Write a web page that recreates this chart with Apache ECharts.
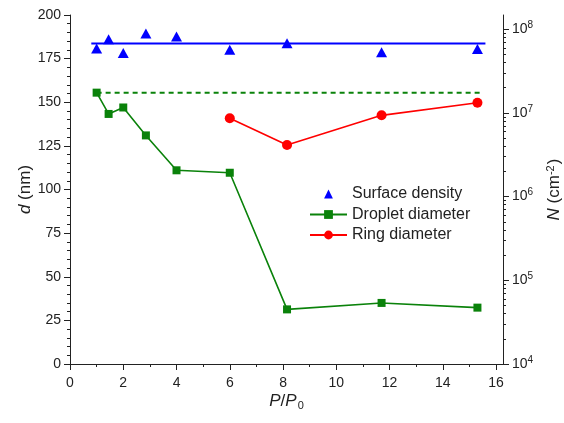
<!DOCTYPE html>
<html>
<head>
<meta charset="utf-8">
<script src="https://cdn.jsdelivr.net/npm/echarts@6/dist/echarts.min.js"></script>
<style>
  html, body { margin: 0; padding: 0; background: #fff; }
  #chart { width: 564px; height: 423px; }
</style>
</head>
<body>
<div id="chart"></div>
<script>
// P/P0 values and readings
var densityP = [1.0, 1.45, 2.0, 2.85, 4.0, 6.0, 8.15, 11.7, 15.3];
var densityN = [5.9e7, 7.6e7, 5.2e7, 8.9e7, 8.2e7, 5.7e7, 6.8e7, 5.3e7, 5.8e7];
var dropletP = [1.0, 1.45, 2.0, 2.85, 4.0, 6.0, 8.15, 11.7, 15.3];
var dropletD = [155.5, 143.3, 147, 131, 111, 109.6, 31.3, 35, 32.3];
var ringP = [6.0, 8.15, 11.7, 15.3];
var ringD = [140.8, 125.5, 142.5, 149.7];

// mean surface density line and reference droplet line
var meanLineP = [0.8, 15.6];
var meanLineN = [6.75e7, 6.75e7];
var refLineP = [1.0, 15.5];
var refLineD = [155.5, 155.5];

// tick values
var xMajor = [0, 2, 4, 6, 8, 10, 12, 14, 16];
var xMinor = [1, 3, 5, 7, 9, 11, 13, 15];
var nMajor = [1e4, 1e5, 1e6, 1e7, 1e8];
var nMinor = [];
for (var e = 4; e < 8; e++) {
  for (var m = 2; m <= 9; m++) nMinor.push(m * Math.pow(10, e));
}

function pairs(xs, ys) {
  var out = [];
  for (var i = 0; i < xs.length; i++) out.push([xs[i], ys[i]]);
  return out;
}

var FONT = 'Liberation Sans, Arial, sans-serif';
var TXT = '#222';
var AX = '#222';

var myChart = echarts.init(document.getElementById('chart'));

var option = {
  animation: false,
  textStyle: { fontFamily: FONT },
  grid: { left: 70, right: 61, top: 15, bottom: 59, containLabel: false, outerBoundsMode: 'none' },
  legend: {
    orient: 'vertical',
    left: 309,
    top: 186,
    padding: 0,
    itemWidth: 37,
    itemHeight: 11,
    itemGap: 4.5,
    textStyle: { fontFamily: FONT, fontSize: 16, color: TXT },
    data: ['Surface density', 'Droplet diameter', 'Ring diameter']
  },
  xAxis: [
    {
      type: 'value', min: 0, max: 16.26, position: 'bottom',
      name: '{i|P}/{i|P}{sub|0}',
      nameLocation: 'middle', nameGap: 28, nameMoveOverlap: false,
      nameTextStyle: {
        fontFamily: FONT, fontSize: 17, color: TXT,
        rich: {
          i: { fontStyle: 'italic', fontSize: 17, fontFamily: FONT, color: TXT },
          sub: { fontSize: 11, fontFamily: FONT, color: TXT, verticalAlign: 'bottom', padding: [8, 0, 0, 1] }
        }
      },
      axisLine: { show: true, onZero: false, lineStyle: { color: AX, width: 1 } },
      axisTick: { show: true, inside: false, length: 6, customValues: xMajor, lineStyle: { color: AX } },
      axisLabel: { customValues: xMajor, fontSize: 14, color: TXT, margin: 12 },
      splitLine: { show: false }
    },
    {
      type: 'value', min: 0, max: 16.26, position: 'bottom',
      axisLine: { show: false, onZero: false },
      axisTick: { show: true, inside: false, length: 3, customValues: xMinor, lineStyle: { color: AX } },
      axisLabel: { show: false },
      splitLine: { show: false }
    }
  ],
  yAxis: [
    {
      type: 'value', min: 0, max: 200, interval: 25, position: 'left',
      name: '{i|d} (nm)',
      nameLocation: 'middle', nameGap: 36, nameRotate: 90, nameMoveOverlap: false,
      nameTextStyle: {
        fontFamily: FONT, fontSize: 17, color: TXT,
        rich: { i: { fontStyle: 'italic', fontSize: 17, fontFamily: FONT, color: TXT } }
      },
      axisLine: { show: true, onZero: false, lineStyle: { color: AX, width: 1 } },
      axisTick: { show: true, inside: false, length: 6, lineStyle: { color: AX } },
      minorTick: { show: true, splitNumber: 5, length: 3, lineStyle: { color: AX } },
      axisLabel: { fontSize: 14, color: TXT, margin: 9 },
      splitLine: { show: false }
    },
    {
      type: 'log', logBase: 10, min: 1e4, max: 1.48e8, position: 'right',
      name: '{i|N} (cm{sup|-2})',
      nameLocation: 'middle', nameGap: 42, nameRotate: 90, nameMoveOverlap: false,
      nameTextStyle: {
        fontFamily: FONT, fontSize: 17, color: TXT,
        rich: {
          i: { fontStyle: 'italic', fontSize: 17, fontFamily: FONT, color: TXT },
          sup: { fontSize: 11, fontFamily: FONT, color: TXT, verticalAlign: 'top', padding: [0, 1, 8, 0] }
        }
      },
      axisLine: { show: true, onZero: false, lineStyle: { color: AX, width: 1 } },
      axisTick: { show: true, inside: false, length: 6, customValues: nMajor, lineStyle: { color: AX } },
      axisLabel: {
        customValues: nMajor, fontSize: 14, color: TXT, margin: 9,
        formatter: function (v) {
          return '10{sup|' + Math.round(Math.log10(v)) + '}';
        },
        rich: { sup: { fontSize: 10, fontFamily: FONT, color: TXT, verticalAlign: 'top', padding: [0, 0, 8, 0] } }
      },
      splitLine: { show: false }
    },
    {
      type: 'log', logBase: 10, min: 1e4, max: 1.48e8, position: 'right',
      axisLine: { show: false, onZero: false },
      axisTick: { show: true, inside: false, length: 3, customValues: nMinor, lineStyle: { color: AX } },
      axisLabel: { show: false },
      splitLine: { show: false }
    }
  ],
  series: [
    {
      name: 'Surface density', type: 'line', yAxisIndex: 1,
      symbol: 'triangle', symbolSize: [11, 10], showSymbol: true,
      itemStyle: { color: '#0000ff' },
      lineStyle: { color: '#0000ff', opacity: 0 },
      data: pairs(densityP, densityN), z: 5
    },
    {
      name: 'mean', type: 'line', yAxisIndex: 1, showSymbol: false, symbol: 'none',
      lineStyle: { color: '#0000ff', width: 2 },
      data: pairs(meanLineP, meanLineN), z: 3
    },
    {
      name: 'Droplet diameter', type: 'line', yAxisIndex: 0,
      symbol: 'rect', symbolSize: 8,
      itemStyle: { color: '#0a820a' },
      lineStyle: { color: '#0a820a', width: 1.6 },
      data: pairs(dropletP, dropletD), z: 4
    },
    {
      name: 'ref', type: 'line', yAxisIndex: 0, showSymbol: false, symbol: 'none',
      lineStyle: { color: '#0a820a', width: 2, type: [5, 4] },
      data: pairs(refLineP, refLineD), z: 3
    },
    {
      name: 'Ring diameter', type: 'line', yAxisIndex: 0,
      symbol: 'circle', symbolSize: 10,
      itemStyle: { color: '#ff0000' },
      lineStyle: { color: '#ff0000', width: 1.6 },
      data: pairs(ringP, ringD), z: 4
    }
  ]
};

myChart.setOption(option);
</script>
</body>
</html>
